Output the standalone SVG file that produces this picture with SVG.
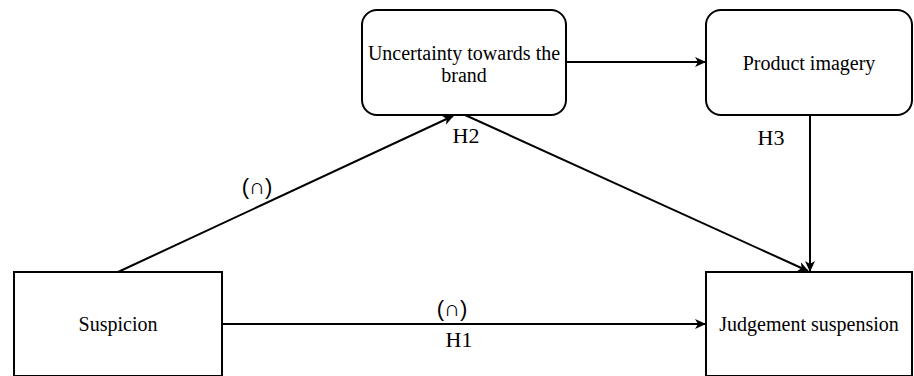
<svg xmlns="http://www.w3.org/2000/svg" width="914" height="376" viewBox="0 0 914 376">
<style>
.box{fill:#fff;stroke:#000;stroke-width:2}
.t{font-family:"Liberation Serif","Times New Roman",serif;font-size:20px;fill:#000;text-anchor:middle}
.h{font-family:"Liberation Serif","Times New Roman",serif;font-size:22px;fill:#000;text-anchor:middle}
.s{font-family:"Liberation Sans",Arial,sans-serif;font-size:22px;fill:#000;text-anchor:middle}
.c{stroke:#000;stroke-width:2;fill:none;marker-end:url(#a)}
</style>
<defs>
<marker id="a" markerWidth="12" markerHeight="12" refX="10" refY="6" orient="auto" markerUnits="userSpaceOnUse">
<path d="M0,1 L11,6 L0,11 L3,6 Z" fill="#000"/>
</marker>
</defs>
<g id="connectors">
<line class="c" x1="118" y1="272" x2="453" y2="116"/>
<line class="c" x1="566" y1="62" x2="705" y2="62"/>
<line class="c" x1="465" y1="115" x2="808" y2="271"/>
<line class="c" x1="810" y1="115" x2="810" y2="271"/>
<line class="c" x1="222" y1="324" x2="705" y2="324"/>
</g>
<g id="uncertainty">
<rect class="box" x="362" y="10" width="204" height="105" rx="15"/>
<text class="t" x="464" y="60">Uncertainty towards the</text>
<text class="t" x="464" y="82">brand</text>
</g>
<g id="product">
<rect class="box" x="706" y="10" width="206" height="105" rx="15"/>
<text class="t" x="809" y="70">Product imagery</text>
</g>
<g id="suspicion">
<rect class="box" x="14" y="272" width="208" height="104"/>
<text class="t" x="118" y="331">Suspicion</text>
</g>
<g id="judgement">
<rect class="box" x="706" y="272" width="206" height="104"/>
<text class="t" x="809" y="331">Judgement suspension</text>
</g>
<g id="labels">
<text class="s" x="257" y="194">(∩)</text>
<text class="h" x="466" y="143">H2</text>
<text class="h" x="771" y="145">H3</text>
<text class="s" x="452" y="316">(∩)</text>
<text class="h" x="459" y="347">H1</text>
</g>
</svg>
